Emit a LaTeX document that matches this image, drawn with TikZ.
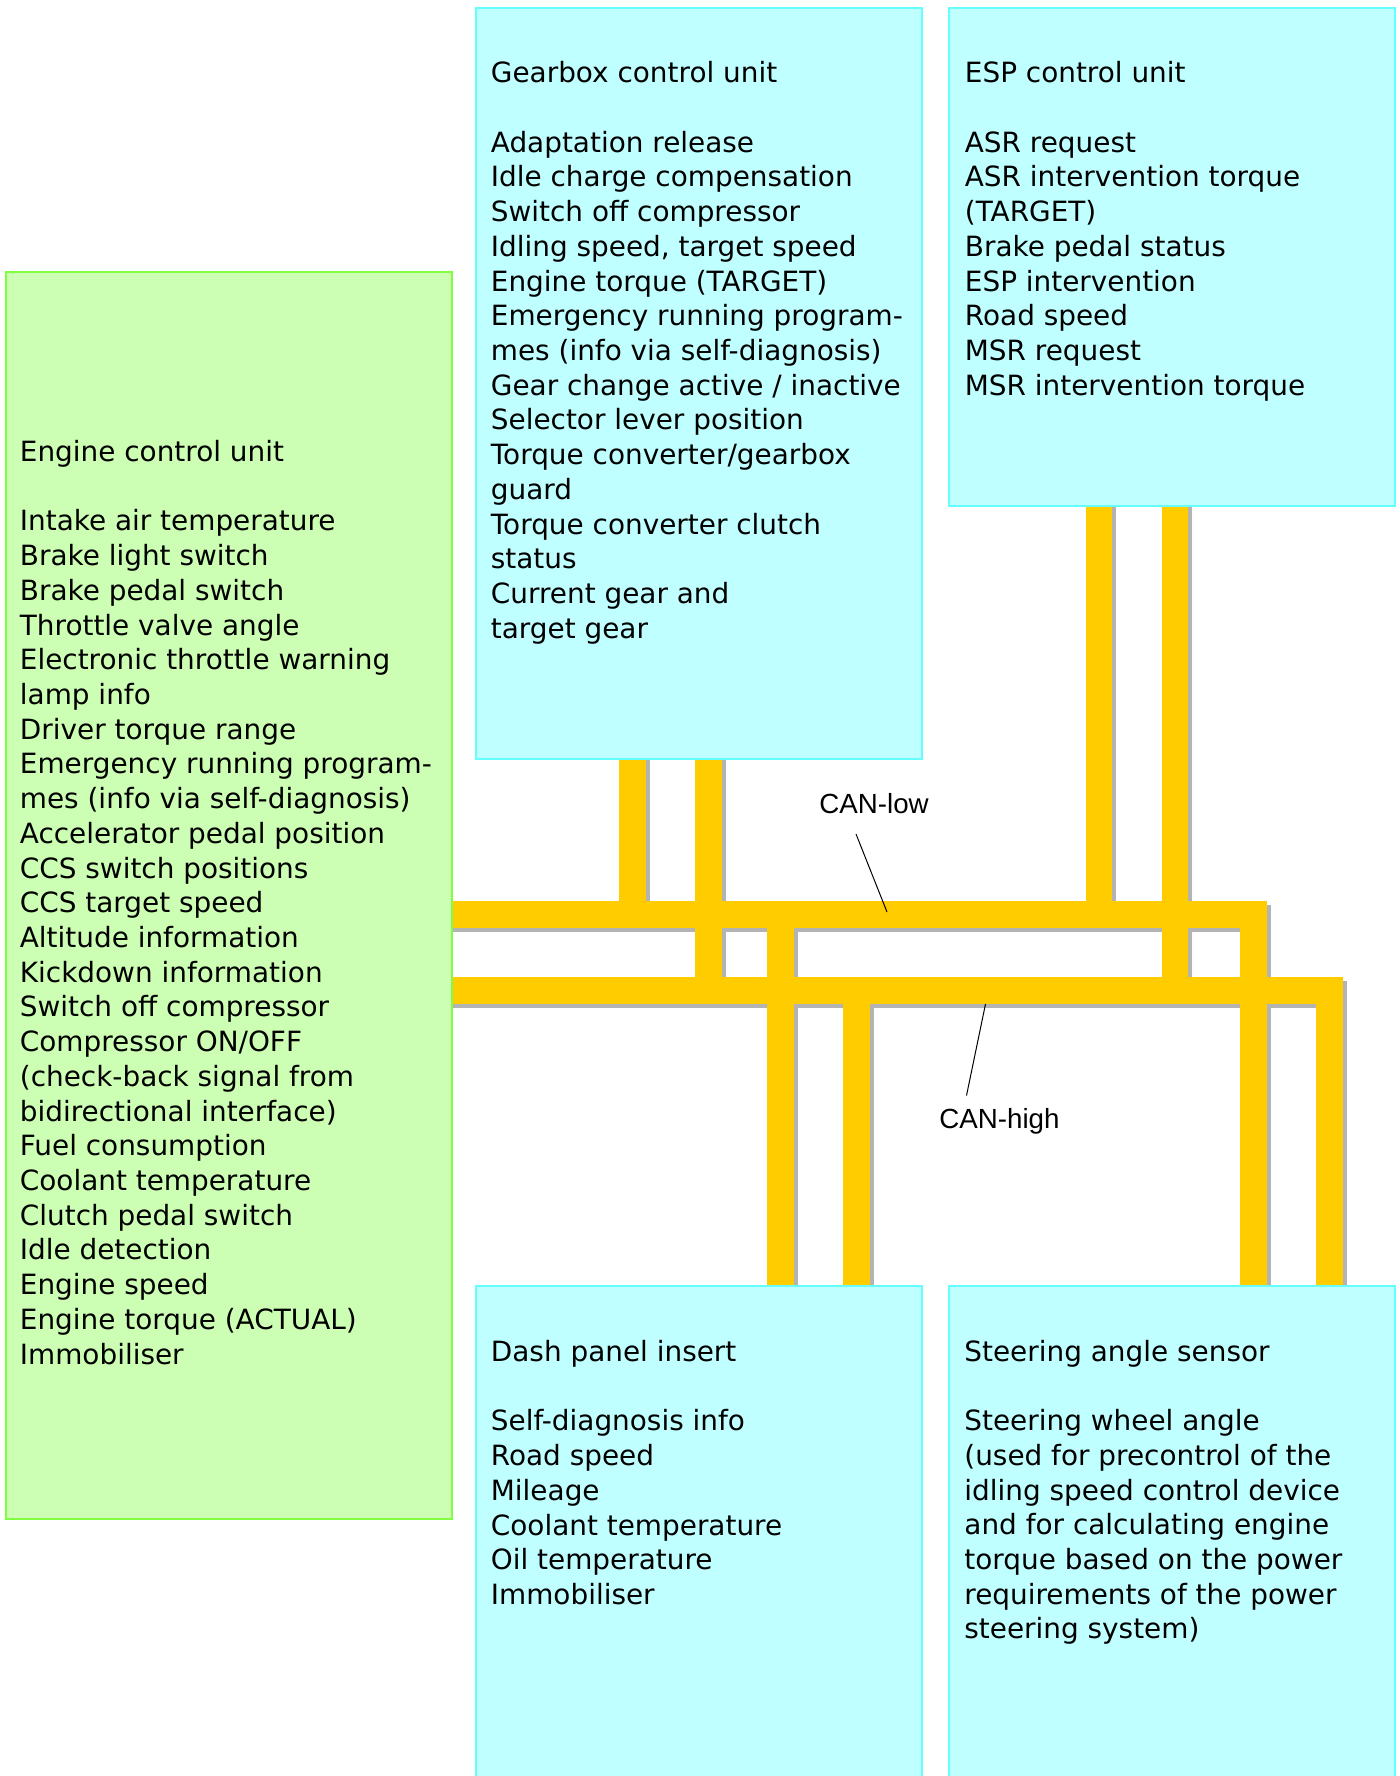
\documentclass[tikz,border=0pt]{standalone}
\usepackage{fontspec}
\setmainfont{DejaVu Sans}
\newfontfamily\canfont{Liberation Sans}
\usetikzlibrary{fit}
\definecolor{boxcyan}{HTML}{C0FFFF}
\definecolor{cyanline}{HTML}{66FFFF}
\definecolor{boxgreen}{HTML}{CCFFB3}
\definecolor{greenline}{HTML}{80FF40}
\definecolor{busyellow}{HTML}{FFCC00}
\definecolor{busshadow}{HTML}{B3B3B3}
\begin{document}
\begin{tikzpicture}[x=0.5pt,y=-0.5pt,
  unitbox/.style={draw=cyanline, fill=boxcyan, line width=0.6pt, inner sep=0pt},
  enginebox/.style={draw=greenline, fill=boxgreen, line width=0.6pt, inner sep=0pt},
  unittext/.style={anchor=north west, inner sep=0pt, align=left, font=\fontsize{13.95pt}{17.36pt}\selectfont},
  canlabel/.style={anchor=base west, inner sep=0pt, font=\canfont\fontsize{13.85pt}{16pt}\selectfont},
  leader/.style={draw=black, line width=0.5pt},
  busbar/.style={fill=busyellow},
  busshade/.style={fill=busshadow}]
\fill[white] (0,0) rectangle (1399,1776);
\useasboundingbox (0,0) rectangle (1399,1776);

\def\buslist{440/901/1267/928, 1240/901/1267/1295, 440/977/1343/1004, 1316/977/1343/1295,
  619/750/646/901, 695/750/722/977, 1086/497/1112/901, 1162/497/1188/977,
  767/901/794/1295, 843/977/870/1295}
% bus shadows
\begin{scope}[shift={(4,4)}]
  \foreach \a/\b/\c/\d in \buslist {\fill[busshade] (\a,\b) rectangle (\c,\d);}
\end{scope}
% bus bars
\foreach \a/\b/\c/\d in \buslist {\fill[busbar] (\a,\b) rectangle (\c,\d);}

% boxes
\node[unitbox, fit={(476,8) (922,759)}] (gearbox) {};
\node[unitbox, fit={(949,8) (1395,506)}] (espbox) {};
\node[enginebox, fit={(6,272) (452,1519)}] (enginebox) {};
\node[unitbox, fit={(476,1286) (922,1790)}] (dashbox) {};
\node[unitbox, fit={(949,1286) (1395,1790)}] (steerbox) {};

% texts
\node[unittext] (geartext) at (490.5,58) {\strut Gearbox control unit\\[17.36pt]
Adaptation release\\
Idle charge compensation\\
Switch off compressor\\
Idling speed, target speed\\
Engine torque (TARGET)\\
Emergency running program-\\
mes (info via self-diagnosis)\\
Gear change active / inactive\\
Selector lever position\\
Torque converter/gearbox\\
guard\\
Torque converter clutch\\
status\\
Current gear and\\
target gear};

\node[unittext] (esptext) at (964.5,58) {\strut ESP control unit\\[17.36pt]
ASR request\\
ASR intervention torque\\
(TARGET)\\
Brake pedal status\\
ESP intervention\\
Road speed\\
MSR request\\
MSR intervention torque};

\node[unittext] (enginetext) at (19.5,436.7) {\strut Engine control unit\\[17.36pt]
Intake air temperature\\
Brake light switch\\
Brake pedal switch\\
Throttle valve angle\\
Electronic throttle warning\\
lamp info\\
Driver torque range\\
Emergency running program-\\
mes (info via self-diagnosis)\\
Accelerator pedal position\\
CCS switch positions\\
CCS target speed\\
Altitude information\\
Kickdown information\\
Switch off compressor\\
Compressor ON/OFF\\
(check-back signal from\\
bidirectional interface)\\
Fuel consumption\\
Coolant temperature\\
Clutch pedal switch\\
Idle detection\\
Engine speed\\
Engine torque (ACTUAL)\\
Immobiliser};

\node[unittext] (dashtext) at (490.5,1336.7) {\strut Dash panel insert\\[17.36pt]
Self-diagnosis info\\
Road speed\\
Mileage\\
Coolant temperature\\
Oil temperature\\
Immobiliser};

\node[unittext] (steertext) at (964,1336.4) {\strut Steering angle sensor\\[17.36pt]
Steering wheel angle\\
(used for precontrol of the\\
idling speed control device\\
and for calculating engine\\
torque based on the power\\
requirements of the power\\
steering system)};

% CAN labels
\node[canlabel] (canlow) at (819,813) {CAN-low};
\node[canlabel] (canhigh) at (939,1128) {CAN-high};
\coordinate (lowfoot) at (856,834);
\coordinate (lowtip) at (887,912);
\coordinate (highfoot) at (966.5,1095.5);
\coordinate (hightip) at (985.5,1004);
\draw[leader] (lowfoot) -- (lowtip);
\draw[leader] (highfoot) -- (hightip);
\end{tikzpicture}
\end{document}
